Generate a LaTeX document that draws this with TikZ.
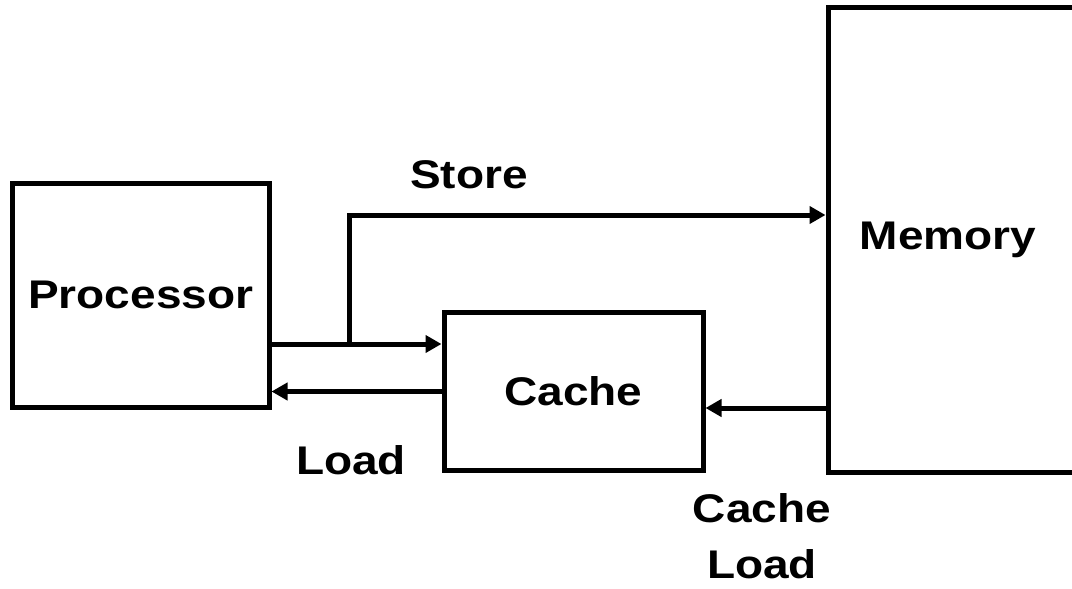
\documentclass[tikz,border=0pt]{standalone}
\usepackage{fontspec}
\setmainfont{Liberation Sans}[FakeStretch=1.15]
\usetikzlibrary{arrows.meta}
\begin{document}
\begin{tikzpicture}[x=1pt,y=-1pt,
  box/.style={draw,line width=5pt,rectangle,inner sep=0pt,font=\fontsize{40}{47}\selectfont\bfseries},
  lbl/.style={font=\fontsize{40}{56}\selectfont\bfseries,inner sep=0pt,anchor=base,align=center},
  arr/.style={line width=5pt,-{Triangle[length=16pt,width=17pt]}}]
\useasboundingbox (0,0) rectangle (1072,589);
\clip (0,0) rectangle (1072,589);
\node[box,minimum width=256.5pt,minimum height=223.5pt] (proc) at (140.75,295.25) {Processor};
\node[box,minimum width=259pt,minimum height=158pt] (cache) at (573.5,391) {Cache};
\node[box,minimum width=262pt,minimum height=464.5pt,
  label={[lbl,anchor=center,xshift=-11pt]center:Memory}] (mem) at (959,239.75) {};
\coordinate (pc) at (0,344);
\coordinate (cp) at (0,391.5);
\coordinate (mc) at (0,408);
\coordinate (st) at (0,215);
\coordinate (split) at (349.5,344);
\draw[arr] (proc.east |- pc) -- (cache.west |- pc);
\draw[arr] (cache.west |- cp) -- (proc.east |- cp);
\draw[arr] (mem.west |- mc) -- (cache.east |- mc);
\draw[arr] (split) |- (mem.west |- st);
\node[lbl] (store) at (469,188) {Store};
\node[lbl] (load) at (351,474) {Load};
\node[lbl] (cload) at (762,578) {Cache\\Load};
\end{tikzpicture}
\end{document}
